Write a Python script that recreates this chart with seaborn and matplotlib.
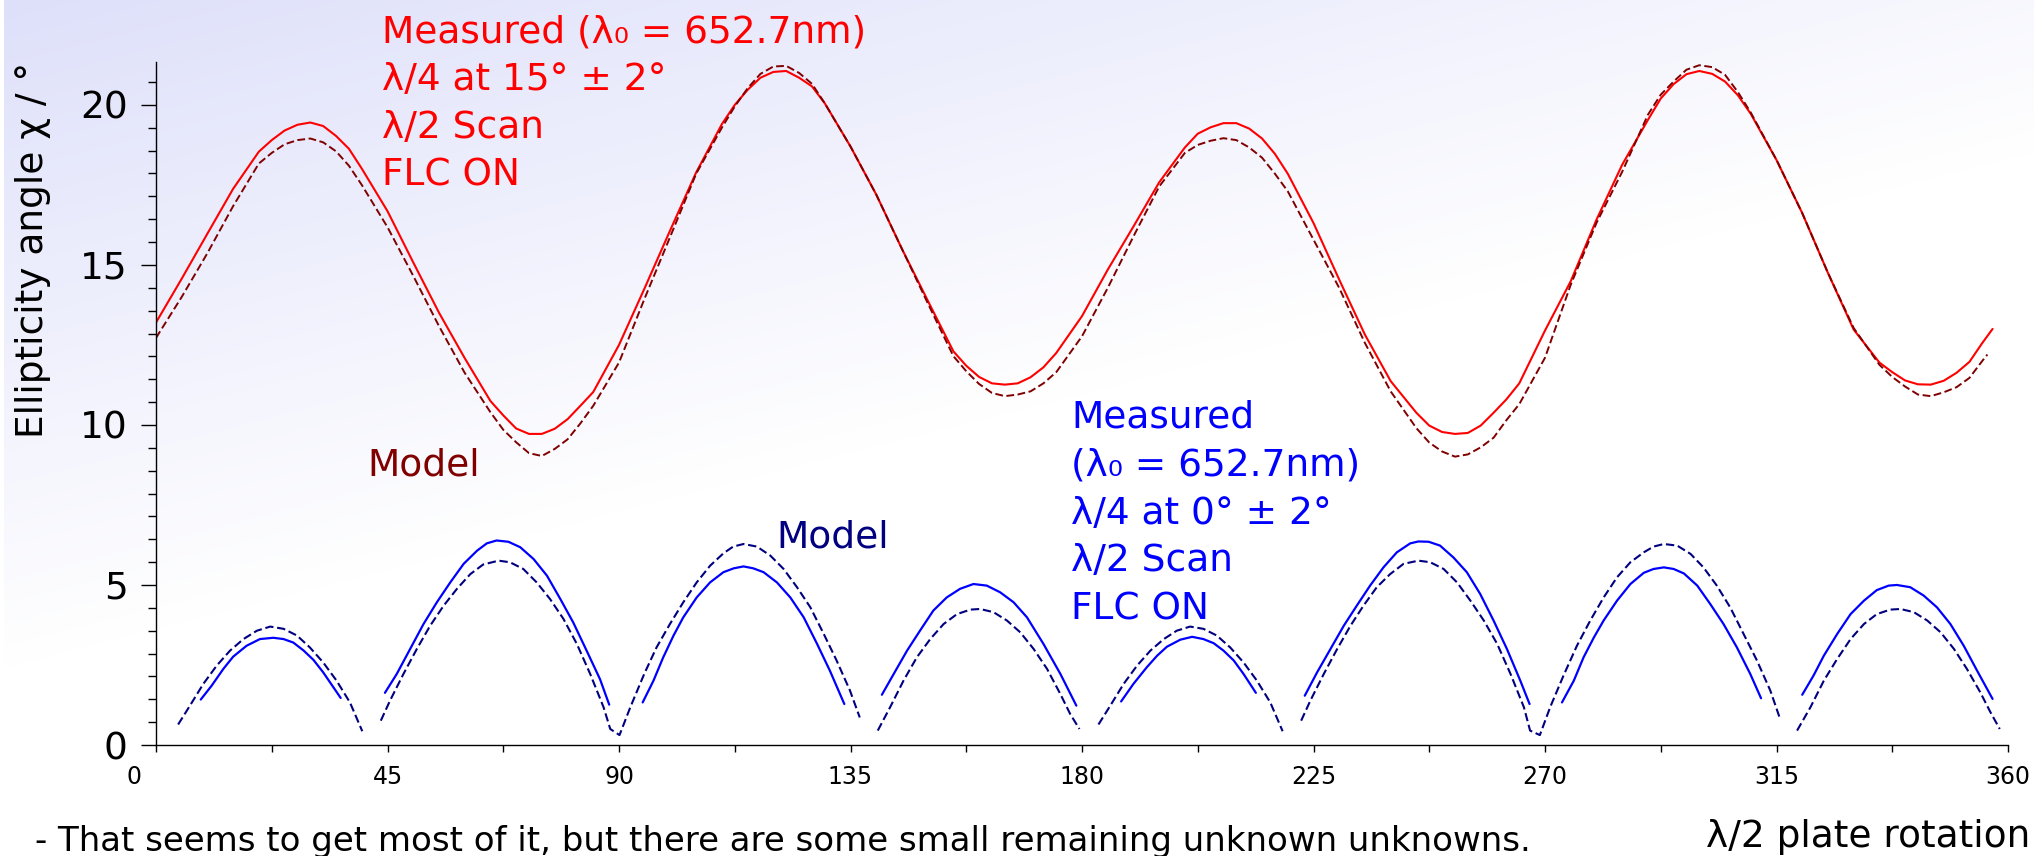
import numpy as np
import pandas as pd
import matplotlib
matplotlib.use("Agg")
import matplotlib.pyplot as plt
from matplotlib.ticker import MultipleLocator
from matplotlib.transforms import ScaledTranslation
import seaborn as sns

# ---------------- data ----------------
red_meas_deg = [0, 5, 10, 15, 20, 22.5, 25, 27.5, 30, 32.5, 35, 37.5, 40, 45, 50, 55, 60, 65,
                67.5, 70, 72.5, 75, 77.5, 80, 82.5, 85, 90, 95, 100, 105, 110, 112.5, 115,
                117.5, 120, 122.5, 125, 127.5, 130, 135, 140, 145, 150, 155, 157.5, 160,
                162.5, 165, 167.5, 170, 172.5, 175, 180, 185, 190, 195, 200, 202.5, 205,
                207.5, 210, 212.5, 215, 217.5, 220, 225, 230, 235, 240, 245, 247.5, 250,
                252.5, 255, 257.5, 260, 262.5, 265, 270, 275, 280, 285, 290, 292.5, 295,
                297.5, 300, 302.5, 305, 307.5, 310, 315, 320, 325, 330, 335, 337.5, 340,
                342.5, 345, 347.5, 350, 352.5, 355, 357]
red_meas_val = [13.2, 14.57, 15.98, 17.38, 18.54, 18.9, 19.2, 19.38, 19.45, 19.34, 19.03, 18.63,
                18.01, 16.68, 15.08, 13.51, 12.09, 10.75, 10.3, 9.89, 9.72, 9.72, 9.88, 10.18,
                10.6, 11.03, 12.5, 14.28, 16.1, 17.89, 19.40, 20.0, 20.47, 20.85, 21.03, 21.06,
                20.85, 20.58, 20.05, 18.70, 17.2, 15.5, 13.89, 12.3, 11.85, 11.5, 11.3, 11.26,
                11.3, 11.49, 11.8, 12.25, 13.4, 14.85, 16.2, 17.58, 18.67, 19.1, 19.3, 19.43,
                19.43, 19.26, 18.95, 18.47, 17.85, 16.31, 14.54, 12.82, 11.37, 10.38, 9.98,
                9.78, 9.72, 9.75, 9.98, 10.38, 10.8, 11.3, 12.95, 14.49, 16.41, 18.13, 19.53,
                20.2, 20.65, 20.96, 21.06, 20.97, 20.73, 20.3, 19.72, 18.28, 16.62, 14.75,
                12.98, 11.95, 11.65, 11.39, 11.27, 11.26, 11.38, 11.63, 11.97, 12.56, 13.0]

red_model_deg = [0, 5, 10, 15, 20, 22.5, 25, 27.5, 30, 32.5, 35, 37.5, 40, 45, 50, 55, 60, 65,
                 67.5, 70, 72.5, 75, 77.5, 80, 82.5, 85, 90, 95, 100, 105, 110, 112.5, 115,
                 117.5, 120, 122.5, 125, 127.5, 130, 135, 140, 145, 150, 155, 157.5, 160,
                 162.5, 165, 167.5, 170, 172.5, 175, 180, 185, 190, 195, 200, 202.5, 205,
                 207.5, 210, 212.5, 215, 217.5, 220, 225, 230, 235, 240, 245, 247.5, 250,
                 252.5, 255, 257.5, 260, 262.5, 265, 270, 275, 280, 285, 290, 292.5, 295,
                 297.5, 300, 302.5, 305, 307.5, 310, 315, 320, 325, 330, 335, 337.5, 340,
                 342.5, 345, 347.5, 350, 352.5, 355, 356]
red_model_val = [12.72, 14.0, 15.37, 16.84, 18.17, 18.5, 18.77, 18.9, 18.95, 18.83, 18.55, 18.1,
                 17.5, 16.18, 14.66, 13.09, 11.63, 10.4, 9.85, 9.46, 9.12, 9.03, 9.25, 9.55,
                 10.05, 10.6, 11.95, 13.96, 15.9, 17.85, 19.29, 19.95, 20.52, 20.97, 21.2,
                 21.22, 21.0, 20.66, 20.05, 18.7, 17.2, 15.5, 13.81, 12.15, 11.68, 11.28, 11.0,
                 10.9, 10.95, 11.05, 11.3, 11.65, 12.77, 14.28, 15.89, 17.45, 18.5, 18.75,
                 18.88, 18.96, 18.9, 18.67, 18.35, 17.85, 17.3, 15.79, 14.28, 12.56, 11.05,
                 9.9, 9.45, 9.17, 9.01, 9.08, 9.3, 9.6, 10.15, 10.65, 12.1, 14.38, 16.31,
                 17.91, 19.69, 20.32, 20.73, 21.1, 21.24, 21.18, 20.94, 20.4, 19.76, 18.28,
                 16.62, 14.75, 13.03, 11.88, 11.5, 11.2, 10.95, 10.9, 11.02, 11.18, 11.47,
                 12.0, 12.2]

blue_model_deg = [
    [4.3, 6.6, 9.2, 11.8, 14.4, 17.0, 19.6, 22.2, 24.8, 27.4, 29.9, 32.5, 35.1, 37.7, 40.1],
    [43.7, 45.5, 48.1, 50.7, 53.3, 55.9, 58.5, 61.1, 63.6, 66.6, 68.8, 71.4, 74.0, 76.6,
     79.2, 81.8, 84.4, 87.0, 88.3, 90.1, 92.2, 94.9, 97.3, 99.9, 102.5, 105.1, 107.7,
     110.3, 112.2, 114.2, 116.8, 119.4, 122.0, 124.6, 127.2, 129.8, 132.3, 134.9, 136.8],
    [140.3, 142.7, 145.3, 147.9, 150.5, 153.1, 155.7, 158.3, 160.2, 162.8, 165.4, 168.0,
     170.6, 173.2, 175.8, 177.7, 179.5],
    [183.2, 185.5, 188.1, 190.7, 193.3, 195.9, 198.4, 201.0, 203.6, 206.2, 208.8, 211.4,
     214.0, 216.6, 219.0],
    [222.6, 224.4, 227.0, 229.6, 232.2, 234.7, 237.3, 239.9, 242.5, 245.4, 247.7, 250.3,
     252.9, 255.5, 258.1, 260.7, 263.3, 265.9, 267.1, 269.0, 271.0, 273.6, 276.2, 278.8,
     281.4, 284.0, 286.6, 289.2, 291.1, 293.1, 295.7, 298.3, 300.8, 303.4, 306.0, 308.6,
     311.2, 313.8, 315.6],
    [319.0, 321.6, 324.2, 326.8, 329.4, 332.0, 334.5, 337.1, 339.1, 341.7, 344.3, 346.9,
     349.5, 352.0, 354.6, 356.6, 358.4],
]
blue_model_val = [
    [0.64, 1.23, 1.91, 2.48, 2.95, 3.31, 3.57, 3.70, 3.63, 3.42, 3.05, 2.58, 2.01, 1.33, 0.43],
    [0.76, 1.39, 2.22, 3.00, 3.73, 4.35, 4.88, 5.34, 5.64, 5.76, 5.71, 5.50, 5.08, 4.56,
     3.94, 3.16, 2.22, 1.18, 0.50, 0.31, 1.18, 2.22, 3.05, 3.78, 4.46, 5.08, 5.60,
     5.99, 6.20, 6.28, 6.20, 5.92, 5.50, 4.93, 4.30, 3.47, 2.64, 1.70, 0.86],
    [0.45, 1.18, 2.01, 2.74, 3.31, 3.78, 4.09, 4.23, 4.25, 4.15, 3.89, 3.52,
     3.00, 2.38, 1.59, 0.97, 0.50],
    [0.64, 1.23, 1.91, 2.48, 2.95, 3.31, 3.57, 3.70, 3.63, 3.42, 3.05, 2.58, 2.01, 1.33, 0.43],
    [0.76, 1.39, 2.22, 3.00, 3.73, 4.35, 4.93, 5.34, 5.66, 5.76, 5.71, 5.50,
     5.08, 4.51, 3.89, 3.16, 2.22, 1.18, 0.45, 0.31, 1.18, 2.17, 3.10, 3.89,
     4.61, 5.24, 5.71, 6.02, 6.20, 6.28, 6.23, 5.97, 5.55, 4.98, 4.30, 3.47,
     2.64, 1.70, 0.86],
    [0.45, 1.18, 2.01, 2.69, 3.31, 3.78, 4.09, 4.23, 4.25, 4.15, 3.89, 3.52,
     3.00, 2.38, 1.65, 1.02, 0.50],
]

blue_meas_deg = [
    [8.7, 10.8, 13.1, 15.0, 17.6, 20.2, 22.8, 24.8, 26.7, 28.7, 30.6, 32.5, 34.5, 35.9],
    [44.5, 46.8, 49.4, 52.0, 54.6, 57.2, 59.8, 62.4, 64.3, 66.2, 68.5, 70.8, 73.4, 76.0,
     78.6, 81.1, 83.7, 86.3, 88.1],
    [94.6, 96.7, 98.6, 100.6, 102.5, 105.1, 107.7, 110.3, 112.3, 114.2, 116.1, 118.1,
     120.7, 123.3, 125.9, 128.5, 131.0, 133.8],
    [141.1, 143.4, 146.0, 148.5, 151.1, 153.7, 156.3, 158.9, 161.5, 164.1, 166.7, 169.3,
     172.5, 175.8, 178.9],
    [187.6, 190.0, 192.6, 194.6, 196.5, 199.1, 201.4, 203.6, 205.6, 207.5, 209.5, 211.4, 213.8],
    [223.3, 225.7, 228.3, 230.9, 233.4, 236.0, 238.6, 241.2, 243.8, 245.4, 247.4, 249.6,
     252.2, 254.8, 257.4, 260.0, 262.6, 265.2, 267.0],
    [273.3, 275.6, 277.5, 279.5, 281.4, 284.0, 286.6, 289.2, 291.1, 293.1, 295.0, 297.0,
     299.6, 302.1, 304.7, 307.3, 309.9, 312.0],
    [320.0, 322.2, 324.2, 326.8, 329.4, 332.0, 334.5, 336.8, 338.4, 341.0, 343.6, 346.2,
     348.8, 351.4, 354.0, 357.0],
]
blue_meas_val = [
    [1.42, 1.85, 2.38, 2.76, 3.10, 3.31, 3.35, 3.31, 3.20, 2.95, 2.66, 2.27, 1.80, 1.47],
    [1.63, 2.22, 3.00, 3.78, 4.46, 5.08, 5.66, 6.07, 6.30, 6.39, 6.35, 6.18, 5.81, 5.29,
     4.56, 3.83, 2.95, 2.06, 1.26],
    [1.33, 2.01, 2.74, 3.42, 3.99, 4.61, 5.08, 5.40, 5.52, 5.58, 5.52, 5.40,
     5.08, 4.61, 3.99, 3.16, 2.32, 1.28],
    [1.57, 2.22, 2.95, 3.57, 4.20, 4.61, 4.88, 5.03, 4.98, 4.77, 4.46, 3.99,
     3.16, 2.22, 1.23],
    [1.36, 1.91, 2.43, 2.79, 3.07, 3.29, 3.38, 3.31, 3.18, 2.95, 2.64, 2.22, 1.63],
    [1.54, 2.27, 3.00, 3.73, 4.35, 4.98, 5.55, 6.02, 6.30, 6.36, 6.35, 6.23,
     5.86, 5.40, 4.72, 3.89, 3.00, 2.01, 1.28],
    [1.33, 2.01, 2.74, 3.36, 3.89, 4.51, 5.03, 5.38, 5.50, 5.55, 5.50, 5.36,
     4.98, 4.41, 3.78, 3.05, 2.22, 1.46],
    [1.57, 2.17, 2.79, 3.47, 4.09, 4.51, 4.84, 4.98, 5.00, 4.93, 4.67, 4.30,
     3.78, 3.10, 2.32, 1.44],
]

x_ticks = [0, 45, 90, 135, 180, 225, 270, 315, 360]
y_ticks = [0, 5, 10, 15, 20]

red_lines = ["Measured (λ₀ = 652.7nm)", "λ/4 at 15° ± 2°", "λ/2 Scan", "FLC ON"]
blue_lines = ["Measured", "(λ₀ = 652.7nm)", "λ/4 at 0° ± 2°", "λ/2 Scan", "FLC ON"]
caption = "- That seems to get most of it, but there are some small remaining unknown unknowns."
x_label = "λ/2 plate rotation"
y_label = "Ellipticity angle χ / °"

# ---------------- figure ----------------
sns.set_theme(style="ticks")
plt.rcParams["font.family"] = ["DejaVu Sans"]

W, H = 2034, 856
fig = plt.figure(figsize=(W / 100, H / 100), dpi=100)

# background gradient (lavender top-left -> white)
yy, xx = np.mgrid[0:H, 0:W]
t = np.clip((xx + 3.94 * yy) / 2632.0, 0, 1)
c0 = np.array([222, 224, 250]) / 255.0
img = c0[None, None, :] * (1 - t[..., None]) + t[..., None]
img[:, :4, :] = 1.0
fig.figimage(img, xo=0, yo=0, origin="upper", zorder=-10)

ax = fig.add_axes([156 / W, 1 - 745 / H, (2008 - 156) / W, (745 - 61.7) / H])
ax.set_facecolor("none")

def arcs_df(degs, vals):
    rows = []
    for i, (d, v) in enumerate(zip(degs, vals)):
        for dd, vv in zip(d, v):
            rows.append((i, dd, vv))
    return pd.DataFrame(rows, columns=["arc", "deg", "val"])

red_meas = pd.DataFrame({"deg": red_meas_deg, "val": red_meas_val})
red_model = pd.DataFrame({"deg": red_model_deg, "val": red_model_val})

sns.lineplot(data=red_meas, x="deg", y="val", color="#ff0000", lw=1.5, ax=ax,
             estimator=None, sort=False, legend=False)
sns.lineplot(data=red_model, x="deg", y="val", color="#800000", lw=1.4, ax=ax,
             estimator=None, sort=False, legend=False, linestyle=(0, (4, 1.8)))
sns.lineplot(data=arcs_df(blue_meas_deg, blue_meas_val), x="deg", y="val", units="arc",
             estimator=None, sort=False, color="#0000ff", lw=1.6, ax=ax, legend=False)
sns.lineplot(data=arcs_df(blue_model_deg, blue_model_val), x="deg", y="val", units="arc",
             estimator=None, sort=False, color="#000080", lw=1.5, ax=ax, legend=False,
             linestyle=(0, (4, 1.8)))
for ln in ax.get_lines():
    ln.set_solid_joinstyle("round")
    ln.set_dash_joinstyle("round")

ax.set_xlim(0, 360)
ax.set_ylim(0, 21.35)
ax.set_xlabel("")
ax.set_ylabel("")
ax.set_xticks(x_ticks)
ax.set_xticklabels([str(v) for v in x_ticks])
ax.set_yticks(y_ticks)
ax.set_yticklabels([str(v) for v in y_ticks])
ax.xaxis.set_minor_locator(MultipleLocator(22.5))
ax.yaxis.set_minor_locator(MultipleLocator(5 / 7))
for s in ["top", "right"]:
    ax.spines[s].set_visible(False)
for s in ["left", "bottom"]:
    ax.spines[s].set_color("black")
    ax.spines[s].set_linewidth(1.0)
ax.tick_params(axis="y", which="major", length=10.8, width=1.0, labelsize=27,
               pad=9.5, color="black", labelcolor="black", direction="out")
ax.tick_params(axis="y", which="minor", length=5.8, width=1.0, color="black",
               direction="out")
ax.tick_params(axis="x", which="both", length=5, width=1.0, color="black",
               direction="out")
ax.tick_params(axis="x", which="major", labelsize=17, pad=9.5, labelcolor="black")

# the "0" on the x axis sits left of the origin in the reference
first = ax.get_xticklabels()[0]
first.set_transform(first.get_transform() + ScaledTranslation(-0.22, 0, fig.dpi_scale_trans))

def ftxt(x, y, s, **kw):
    fig.text(x / W, 1 - y / H, s, va="baseline", ha="left", **kw)

for i, s in enumerate(red_lines):
    ftxt(382, 42 + 48 * i, s, color="#ff0000", fontsize=27)
for i, s in enumerate(blue_lines):
    ftxt(1071, 428 + 47.8 * i, s, color="#0000ff", fontsize=27)
ftxt(367, 475, "Model", color="#800000", fontsize=27)
ftxt(776, 547, "Model", color="#000080", fontsize=27)
ftxt(35, 851, caption, color="black", fontsize=24.5)
ftxt(1706, 847, x_label, color="black", fontsize=27)
fig.text(33 / W, 1 - 250 / H, y_label, rotation=90, ha="center", va="center",
         fontsize=27, color="black")

fig.savefig("out.png", dpi=100)
